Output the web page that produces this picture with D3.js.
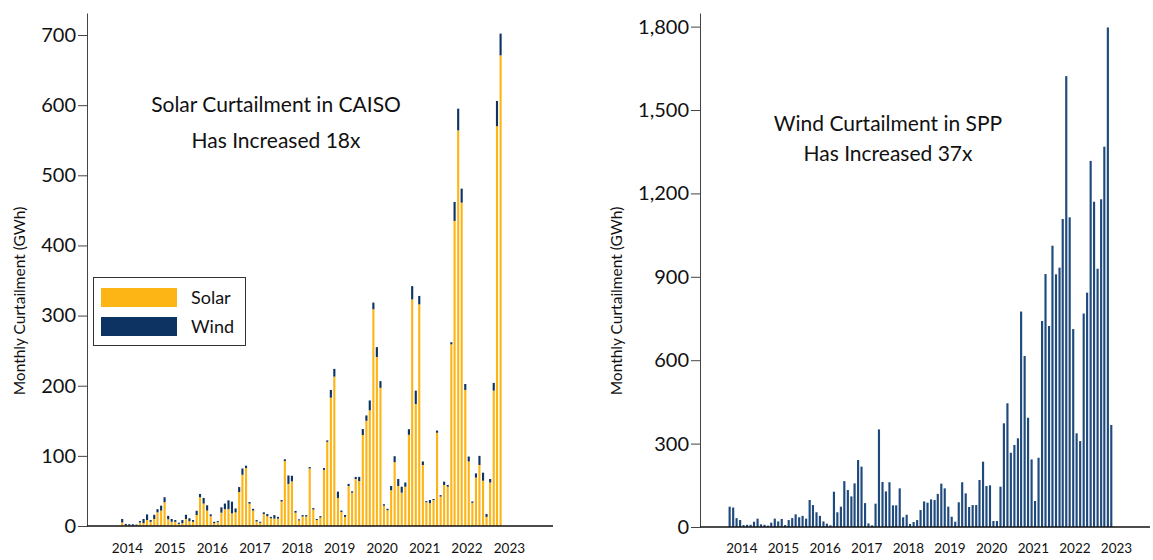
<!DOCTYPE html>
<html lang="en">
  <head>
  <title>Curtailment</title>
    <style>
      body { margin: 0; background: #fff; }
      text { font-family: Lato, 'Open Sans', sans-serif; fill: #111; }
      .axis path, .axis line { stroke: #444; stroke-width: 1px; }
      .axis text { font-size: 20px; fill: #111; }
      .base { stroke: #111; stroke-width: 1.6px; }
    </style>
  </head>
  <body>
<div id="chart"></div>
    <script src="https://d3js.org/d3.v7.min.js"></script>
    <script>
    // CAISO monthly curtailment, May 2014 - Apr 2023 (GWh)
    var caisoSolar = [5, 1, 0.5, 0.5, 0.5, 5, 4, 8.5, 6, 10, 19.5, 22,
      34, 9.5, 6, 6, 3, 4, 10, 7, 6, 15.7, 41, 32,
      22, 14, 4, 5.5, 19, 24, 24, 18, 19.5, 48.5, 73, 82.6,
      31.8, 22, 6.5, 4.5, 17, 14, 11, 10.5, 10.5, 35, 92.6, 60,
      63.6, 19, 8, 13.5, 13.5, 82, 23.5, 8.5, 12, 80, 120, 183,
      213, 40, 20, 13, 57, 47.5, 67, 64, 129.7, 150, 165, 309,
      241, 197, 29, 22.5, 51, 91, 57, 47.5, 56, 130, 323, 174,
      316, 87, 34, 32.5, 37, 133, 42, 58.5, 56, 259, 435, 564,
      461, 194, 92, 33, 69, 87, 64.6, 13, 62, 193, 570, 671];
    var caisoWind = [5, 2, 2, 2, 1.5, 2, 6, 8, 2.5, 6, 4.5, 7,
      7, 5, 4, 2.5, 1.7, 4.5, 6, 4, 2.5, 6, 4.6, 8,
      7.5, 2.6, 2, 1.5, 7.6, 8, 12.6, 16.7, 5.5, 7, 9, 3.4,
      2.4, 2.5, 2, 1.5, 2.5, 3, 2, 5, 2.5, 2, 2.5, 12,
      8, 2.5, 1.5, 2, 2, 2, 2, 1.5, 2, 2.6, 2, 11,
      11, 9, 2, 2.7, 3, 2, 3, 6, 8.5, 7.6, 14, 9.5,
      14, 9.5, 2, 2, 6, 8.5, 10, 8.5, 6, 8, 19, 19,
      12, 5, 1.5, 4.5, 1.5, 3, 2, 4.7, 2.5, 3, 27, 31,
      20, 8.5, 7, 2, 6, 13, 11.4, 4, 5, 11, 36, 31];
    // SPP monthly wind curtailment, Mar 2014 - May 2023 (GWh)
    var sppWind = [73, 70, 32, 25, 7, 8, 8, 19, 30, 9.6,
      8, 5, 15.6, 30, 20, 29, 7, 25, 32, 45.6,
      35, 40, 30, 97, 79, 53, 40, 20, 12, 6,
      127, 53, 73, 165, 133, 110, 157, 241, 217, 86,
      13, 6, 84, 351, 162, 128, 161, 78, 78, 139,
      35, 44, 11, 18, 25, 61, 92, 87.5, 99.5, 97,
      119, 156, 139, 73, 37, 19, 89, 161, 121, 72,
      79, 79, 169, 235, 147.5, 150, 21.6, 21.6, 145, 373,
      445, 267, 295, 319, 775, 615, 393, 243, 93.5, 249,
      741, 910, 723, 1012, 909, 933, 1108, 1622, 1114, 712,
      337, 309, 768, 843, 1317, 1170, 929, 1179, 1368, 1797,
      367];
    var yearLabels = [2014, 2015, 2016, 2017, 2018, 2019, 2020, 2021, 2022, 2023];
    var caisoTicks = [0, 100, 200, 300, 400, 500, 600, 700];
    var sppTicks = [0, 300, 600, 900, 1200, 1500, 1800];
    var legendItems = ["Solar", "Wind"];

    var solarColor = "#fdb515", windColor = "#0c3362", sppColor = "#1f4a7d";

    var width = 1153, height = 560;
    var svg = d3.select("#chart").append("svg")
        .attr("width", width)
        .attr("height", height);

    var caisoMonths = d3.timeMonth.range(new Date(2014, 4, 1), new Date(2023, 4, 1));
    var sppMonths = d3.timeMonth.range(new Date(2014, 2, 1), new Date(2023, 5, 1));

    function midMonth(d) { return new Date(d.getFullYear(), d.getMonth(), 16); }

    function panel(opt) {
      var g = svg.append("g");
      var x = d3.scaleTime()
          .domain([new Date(2014, 0, 1), new Date(2024, 0, 1)])
          .range(opt.xRange);
      var y = d3.scaleLinear().domain(opt.yDomain).range([opt.y0, 13]);
      var monthW = (opt.xRange[1] - opt.xRange[0]) / 120;
      var barW = monthW * opt.barFrac;

      opt.drawBars(g, x, y, barW);

      g.append("g")
          .attr("class", "axis")
          .attr("transform", "translate(" + opt.axisX + ",0)")
          .call(d3.axisLeft(y).tickValues(opt.ticks).tickSize(9).tickSizeOuter(0).tickPadding(2)
            .tickFormat(opt.fmt));

      g.append("line")
          .attr("class", "base")
          .attr("x1", opt.axisX).attr("x2", opt.axisEnd)
          .attr("y1", y(0)).attr("y2", y(0));

      g.selectAll(".yr")
        .data(yearLabels)
        .enter().append("text")
          .attr("x", function(d){ return x(new Date(d, 6, 1)); })
          .attr("y", 553)
          .attr("text-anchor", "middle")
          .style("font-size", "13.5px")
          .text(function(d){ return d; });

      g.append("text")
          .attr("transform", "translate(" + opt.titleX + ",301) rotate(-90)")
          .attr("text-anchor", "middle")
          .style("font-size", "15.5px")
          .text("Monthly Curtailment (GWh)");

      g.selectAll(".note")
        .data(opt.note)
        .enter().append("text")
          .attr("x", opt.noteX)
          .attr("y", function(d, i){ return opt.noteY + i * opt.noteGap; })
          .attr("text-anchor", "middle")
          .style("font-size", "21px")
          .text(function(d){ return d; });
      return g;
    }

    panel({
      xRange: [106.5, 530.8],
      yDomain: [0, 731.4], y0: 526,
      ticks: caisoTicks, fmt: d3.format("d"),
      axisX: 87, axisEnd: 553, barFrac: 0.6,
      titleX: 25, noteX: 276, noteY: 112, noteGap: 36,
      note: ["Solar Curtailment in CAISO", "Has Increased 18x"],
      drawBars: function(g, x, y, barW) {
        var rows = caisoMonths.map(function(m, i){ return {m: m, solar: caisoSolar[i], wind: caisoWind[i]}; });
        var stack = d3.stack().keys(["solar", "wind"])(rows);
        g.selectAll(".ser")
          .data(stack)
          .enter().append("g")
            .attr("fill", function(d){ return d.key === "solar" ? solarColor : windColor; })
          .selectAll("rect")
          .data(function(d){ return d; })
          .enter().append("rect")
            .attr("x", function(d){ return x(midMonth(d.data.m)) - barW / 2; })
            .attr("width", barW)
            .attr("y", function(d){ return y(d[1]); })
            .attr("height", function(d){ return y(d[0]) - y(d[1]); });
      }
    });

    panel({
      xRange: [721.2, 1137.5],
      yDomain: [0, 1849], y0: 527,
      ticks: sppTicks, fmt: d3.format(","),
      axisX: 700, axisEnd: 1150, barFrac: 0.62,
      titleX: 622, noteX: 888, noteY: 131, noteGap: 30,
      note: ["Wind Curtailment in SPP", "Has Increased 37x"],
      drawBars: function(g, x, y, barW) {
        g.selectAll("rect")
          .data(sppMonths)
          .enter().append("rect")
            .attr("fill", sppColor)
            .attr("x", function(d){ return x(midMonth(d)) - barW / 2; })
            .attr("width", barW)
            .attr("y", function(d, i){ return y(sppWind[i]); })
            .attr("height", function(d, i){ return y(0) - y(sppWind[i]); });
      }
    });

    // legend on the CAISO panel
    var legend = svg.append("g");
    legend.append("rect")
        .attr("x", 93.5).attr("y", 277.5)
        .attr("width", 152).attr("height", 68)
        .attr("fill", "#fff").attr("stroke", "#333");
    var li = legend.selectAll(".li")
      .data(legendItems)
      .enter().append("g")
        .attr("transform", function(d, i){ return "translate(101," + (288 + i * 29) + ")"; });
    li.append("rect")
        .attr("width", 76).attr("height", 19)
        .attr("fill", function(d){ return d === "Solar" ? solarColor : windColor; });
    li.append("text")
        .attr("x", 90).attr("y", 16)
        .style("font-size", "18px")
        .text(function(d){ return d; });
    </script>
  </body>
</html>
